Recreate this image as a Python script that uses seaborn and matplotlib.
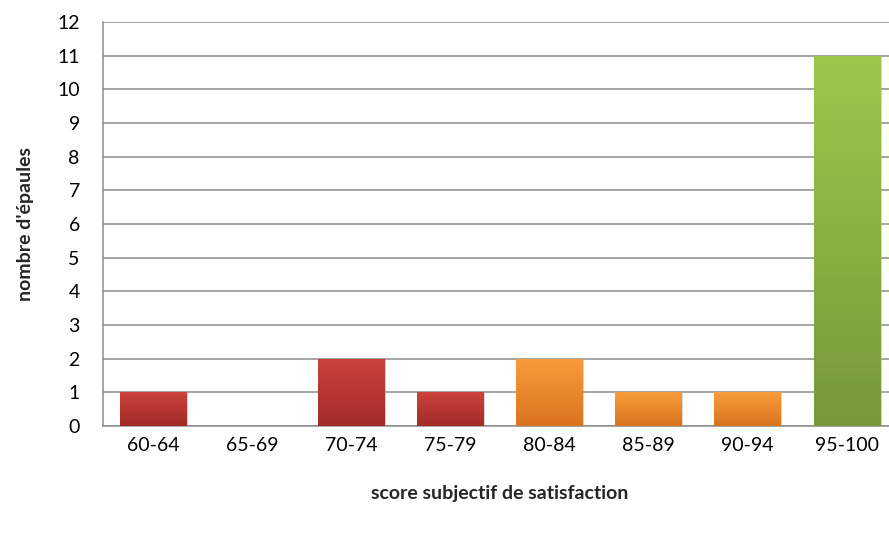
import numpy as np
import pandas as pd
import matplotlib
matplotlib.use("Agg")
import matplotlib.pyplot as plt
import seaborn as sns
from matplotlib.colors import LinearSegmentedColormap

categories = ["60-64", "65-69", "70-74", "75-79", "80-84", "85-89", "90-94", "95-100"]
counts = [1, 0, 2, 1, 2, 1, 1, 11]
groups = ["red", "red", "red", "red", "orange", "orange", "orange", "green"]

gradients = {
    "red": ("#CC413D", "#A22C28"),
    "orange": ("#F99C3C", "#D9731F"),
    "green": ("#9DC74B", "#769839"),
}

sns.set_theme(style="white")
plt.rcParams["font.family"] = ["Lato", "DejaVu Sans"]

df = pd.DataFrame({"cat": categories, "n": counts, "grp": groups})

fig = plt.figure(figsize=(8.89, 5.34), dpi=100)
ax = fig.add_axes([0.1163, 0.2022, 0.892, 0.7566])

sns.barplot(data=df, x="cat", y="n", color="#CC413D", width=0.67, ax=ax,
            saturation=1, zorder=3)

# gradient fill clipped to each bar
for patch, grp in zip(ax.patches, groups):
    patch.set_linewidth(0)
    patch.set_edgecolor("none")
    x0, y0 = patch.get_x(), patch.get_y()
    w, h = patch.get_width(), patch.get_height()
    if h <= 0:
        patch.set_visible(False)
        continue
    top, bottom = gradients[grp]
    cmap = LinearSegmentedColormap.from_list(grp, [bottom, top])
    grad = np.linspace(0, 1, 256).reshape(-1, 1)
    # soft shadow
    ax.add_patch(plt.Rectangle((x0 + 0.015, y0), w, h - 0.03, color="#b0b0b0",
                               alpha=0.5, zorder=2, lw=0))
    im = ax.imshow(grad, extent=(x0, x0 + w, y0, y0 + h), origin="lower",
                   cmap=cmap, aspect="auto", zorder=4)
    im.set_clip_path(patch)

ax.set_xlim(-0.5, len(categories) - 0.5)
ax.set_ylim(0, 12)
ax.set_yticks(range(0, 13))

ax.yaxis.grid(True, color="#8c8c8c", linewidth=1.1, zorder=0)
ax.set_axisbelow(True)
for s in ["top", "right"]:
    ax.spines[s].set_visible(False)
for s in ["left", "bottom"]:
    ax.spines[s].set_color("#8c8c8c")
    ax.spines[s].set_linewidth(1.1)

ax.tick_params(axis="both", labelsize=14, colors="#000000", length=0)
ax.tick_params(axis="x", pad=8)
ax.tick_params(axis="y", pad=17)

ax.set_xlabel("score subjectif de satisfaction", fontsize=14, fontweight="bold",
              labelpad=22)
ax.set_ylabel("nombre d'épaules", fontsize=14, fontweight="bold", labelpad=17)

fig.savefig("out.png", dpi=100)
